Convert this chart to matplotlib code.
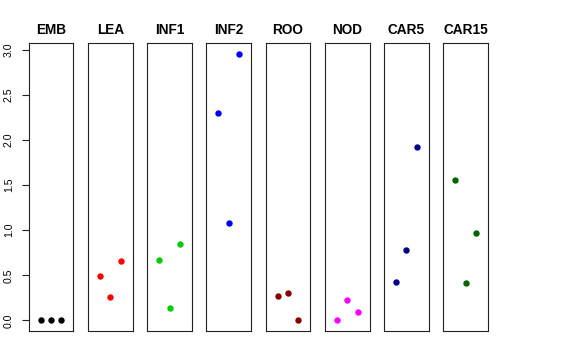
import matplotlib
matplotlib.use("Agg")
import matplotlib.pyplot as plt

plt.rcParams['font.family'] = ['Liberation Sans', 'DejaVu Sans']

tissues = ["EMB", "LEA", "INF1", "INF2", "ROO", "NOD", "CAR5", "CAR15"]
colors = ["#000000", "#FF0000", "#00CD00", "#0000FF", "#8B0000", "#FF00FF", "#00008B", "#006400"]
replicate = [1, 2, 3]
values = {
    "EMB":   [0.0, 0.0, 0.0],
    "LEA":   [0.495, 0.259, 0.662],
    "INF1":  [0.669, 0.140, 0.843],
    "INF2":  [2.301, 1.083, 2.959],
    "ROO":   [0.273, 0.300, 0.0],
    "NOD":   [0.0, 0.229, 0.089],
    "CAR5":  [0.425, 0.784, 1.924],
    "CAR15": [1.554, 0.411, 0.972],
}
yticks = [0.0, 0.5, 1.0, 1.5, 2.0, 2.5, 3.0]
ytick_labels = ["0.0", "0.5", "1.0", "1.5", "2.0", "2.5", "3.0"]

W, H = 576, 360
fig = plt.figure(figsize=(W / 100, H / 100), dpi=100)

left0 = 28.7
pw = 44.7
step = 59.23
top_px = 43.3
bot_px = 330.7

for i, (t, c) in enumerate(zip(tissues, colors)):
    l = left0 + i * step
    ax = fig.add_axes([l / W, (H - bot_px) / H, pw / W, (bot_px - top_px) / H])
    ax.plot(replicate, values[t], 'o', color=c, markersize=4.6, markeredgewidth=0)
    ax.set_xlim(-0.16, 4.16)
    ax.set_ylim(-0.115, 3.074)
    ax.set_xticks([])
    for s in ax.spines.values():
        s.set_linewidth(0.8)
        s.set_color('#222222')
    ax.set_title(t, fontsize=9.8, fontweight='bold', pad=6.5)
    if i == 0:
        ax.set_yticks(yticks)
        ax.set_yticklabels(ytick_labels, rotation=90, va='center', fontsize=7.6)
        ax.tick_params(axis='y', length=5.2, width=0.8, pad=5.5, color='#222222')
    else:
        ax.set_yticks([])

fig.savefig("out.png", dpi=100)
